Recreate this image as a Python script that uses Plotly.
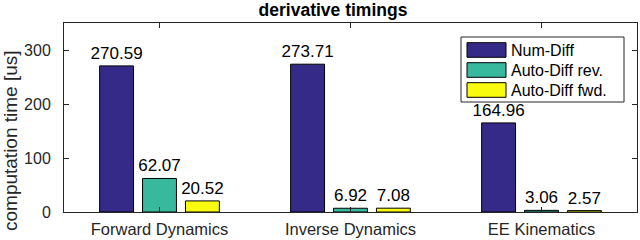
import plotly.graph_objects as go

categories = ["Forward Dynamics", "Inverse Dynamics", "EE Kinematics"]
series_names = ["Num-Diff", "Auto-Diff rev.", "Auto-Diff fwd."]
num_diff = [270.59, 273.71, 164.96]
auto_rev = [62.07, 6.92, 3.06]
auto_fwd = [20.52, 7.08, 2.57]
y_ticks = [0, 100, 200, 300]
colors = ["#352a87", "#38b99e", "#f9fb0e"]
y_label = "computation time [us]"

FONT = "Liberation Sans, Arial, Helvetica, sans-serif"
AX = "#262626"

fig = go.Figure()
for name, vals, col in zip(series_names, [num_diff, auto_rev, auto_fwd], colors):
    fig.add_trace(go.Bar(
        x=categories, y=vals, name=name,
        marker=dict(color=col, line=dict(color="#000000", width=1)),
        text=[f"{v:.2f}" for v in vals], textposition="outside",
        constraintext="none",
        textfont=dict(family=FONT, size=17, color="#000000"),
        cliponaxis=False, showlegend=False,
    ))

# custom MATLAB-style legend
W, H = 573.0, 189.0
def px(x):
    return (x - 64) / W
def py(y):
    return (212 - y) / H

shapes = [dict(type="rect", xref="paper", yref="paper",
               x0=px(461), x1=px(624), y0=py(102), y1=py(37),
               line=dict(color=AX, width=1), fillcolor="white", layer="above")]
annotations = []
for i, (name, col) in enumerate(zip(series_names, colors)):
    yc = 50 + 20 * i
    shapes.append(dict(type="rect", xref="paper", yref="paper",
                       x0=px(467), x1=px(506), y0=py(yc + 7.3), y1=py(yc - 7.3),
                       line=dict(color="#000000", width=1), fillcolor=col, layer="above"))
    annotations.append(dict(xref="paper", yref="paper", x=px(509), y=py(yc),
                            xanchor="left", yanchor="middle", showarrow=False,
                            text=name, font=dict(family=FONT, size=16, color="#000000")))

annotations.append(dict(xref="paper", yref="paper", x=px(10), y=py(141),
                        xanchor="center", yanchor="middle", showarrow=False,
                        textangle=-90, text=y_label,
                        font=dict(family=FONT, size=19, color=AX)))

fig.update_layout(
    width=640, height=240,
    margin=dict(l=64, r=3, t=23, b=28),
    paper_bgcolor="white", plot_bgcolor="white",
    barmode="group", bargap=0.326, bargroupgap=0.21,
    title=dict(text="<b>derivative timings</b>", x=333/640, xanchor="center",
               y=1 - 9.5/240, yanchor="middle",
               font=dict(family=FONT, size=17.5, color="#000000")),
    font=dict(family=FONT, size=16, color=AX),
    shapes=shapes, annotations=annotations,
)
fig.update_xaxes(
    showline=True, linecolor=AX, linewidth=1, mirror="ticks",
    ticks="inside", ticklen=5, tickcolor=AX, range=[-0.5, 2.5],
    tickfont=dict(family=FONT, size=16.5, color=AX), showgrid=False,
    automargin=False, ticklabelstandoff=2,
)
fig.update_yaxes(
    range=[0, 350], tickvals=y_ticks, showline=True, linecolor=AX, linewidth=1,
    mirror="ticks", ticks="inside", ticklen=5, tickcolor=AX, showgrid=False,
    zeroline=False, tickfont=dict(family=FONT, size=16, color=AX),
    automargin=False, ticklabelstandoff=9,
)
fig.write_html("out.html", config={"displayModeBar": False},
               post_script="document.body.style.margin='0';document.body.style.padding='0';")
